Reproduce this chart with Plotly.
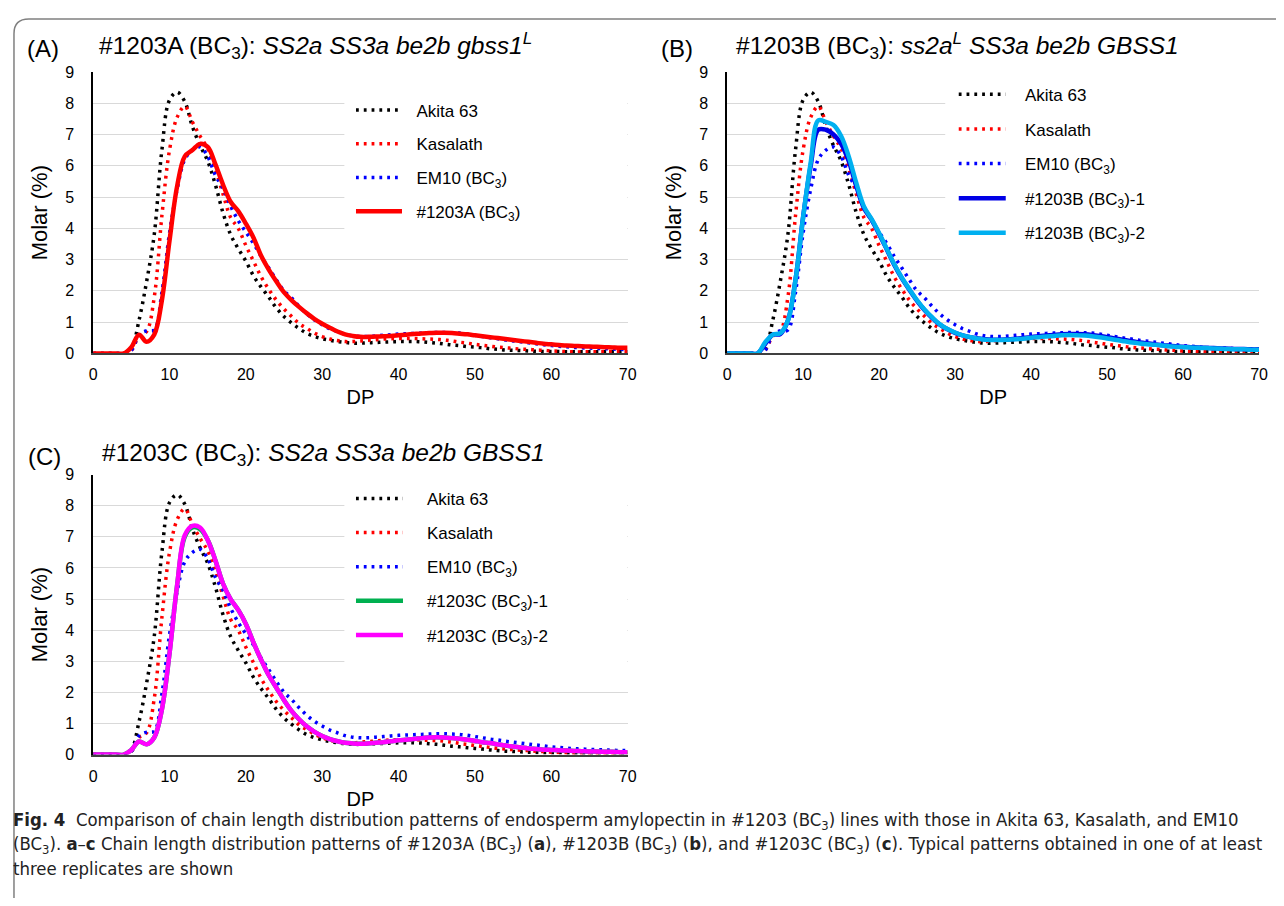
import plotly.graph_objects as go

# ---------------- data ----------------
DP = list(range(0, 71))
x_ticks = [0, 10, 20, 30, 40, 50, 60, 70]
y_ticks = [0, 1, 2, 3, 4, 5, 6, 7, 8, 9]

akita63 = [0, 0, 0, 0, 0, 0.15, 1.05, 2.3, 3.8, 6.5,
           8.1, 8.35, 8.05, 7.25, 6.65, 6.15, 5.4, 4.5, 3.8, 3.35,
           2.95, 2.48, 2.12, 1.8, 1.45, 1.18, 0.97, 0.79, 0.64, 0.54,
           0.47, 0.42, 0.38, 0.35, 0.33, 0.33, 0.34, 0.35, 0.36, 0.37,
           0.38, 0.38, 0.38, 0.37, 0.35, 0.33, 0.30, 0.27, 0.25, 0.22,
           0.20, 0.18, 0.15, 0.13, 0.11, 0.10, 0.09, 0.08, 0.07, 0.06,
           0.06, 0.06, 0.05, 0.05, 0.05, 0.05, 0.05, 0.05, 0.05, 0.05, 0.05]

kasalath = [0, 0, 0, 0, 0, 0.1, 0.55, 0.7, 1.8, 4.4,
            6.5, 7.55, 7.9, 7.4, 6.95, 6.55, 5.9, 5.1, 4.35, 4.0,
            3.45, 2.95, 2.45, 2.05, 1.7, 1.42, 1.18, 0.95, 0.80, 0.65,
            0.54, 0.46, 0.41, 0.38, 0.38, 0.40, 0.42, 0.44, 0.46, 0.47,
            0.48, 0.48, 0.48, 0.47, 0.46, 0.45, 0.43, 0.40, 0.36, 0.33,
            0.29, 0.26, 0.23, 0.20, 0.18, 0.16, 0.14, 0.13, 0.11, 0.10,
            0.08, 0.07, 0.06, 0.05, 0.05, 0.05, 0.05, 0.05, 0.05, 0.05, 0.05]

em10 = [0, 0, 0, 0, 0, 0.1, 0.6, 0.72, 0.75, 1.95,
        3.85, 5.25, 6.2, 6.5, 6.6, 6.3, 5.7, 5.28, 4.71, 4.25,
        3.88, 3.52, 3.1, 2.73, 2.35, 2.0, 1.77, 1.5, 1.26, 1.07,
        0.92, 0.79, 0.70, 0.61, 0.56, 0.54, 0.54, 0.56, 0.58, 0.60,
        0.62, 0.63, 0.64, 0.65, 0.66, 0.67, 0.67, 0.66, 0.65, 0.62,
        0.58, 0.54, 0.50, 0.47, 0.43, 0.40, 0.37, 0.34, 0.31, 0.28,
        0.25, 0.23, 0.21, 0.19, 0.18, 0.17, 0.16, 0.15, 0.14, 0.13, 0.13]

line_1203A = [0, 0, 0, 0, 0, 0.2, 0.6, 0.37, 0.6, 1.7,
              3.6, 5.35, 6.3, 6.5, 6.7, 6.6, 6.05, 5.4, 4.85, 4.55,
              4.15, 3.7, 3.12, 2.68, 2.3, 1.95, 1.7, 1.48, 1.28, 1.10,
              0.95, 0.82, 0.70, 0.61, 0.56, 0.53, 0.53, 0.54, 0.55, 0.56,
              0.58, 0.60, 0.62, 0.64, 0.65, 0.66, 0.66, 0.65, 0.63, 0.61,
              0.58, 0.55, 0.52, 0.49, 0.46, 0.43, 0.40, 0.37, 0.34, 0.31,
              0.29, 0.27, 0.25, 0.24, 0.23, 0.22, 0.21, 0.20, 0.19, 0.18, 0.18]

line_1203B_1 = [0, 0, 0, 0, 0, 0.3, 0.6, 0.62, 1.05, 2.35,
                4.35, 6.0, 7.15, 7.15, 7.0, 6.7, 6.15, 5.35, 4.65, 4.28,
                3.82, 3.33, 2.83, 2.4, 2.03, 1.68, 1.38, 1.13, 0.92, 0.77,
                0.66, 0.58, 0.52, 0.48, 0.45, 0.44, 0.44, 0.45, 0.47, 0.49,
                0.52, 0.55, 0.57, 0.59, 0.61, 0.62, 0.62, 0.61, 0.59, 0.56,
                0.52, 0.48, 0.44, 0.40, 0.36, 0.33, 0.30, 0.27, 0.25, 0.23,
                0.21, 0.20, 0.19, 0.18, 0.17, 0.16, 0.15, 0.14, 0.14, 0.13, 0.13]

line_1203B_2 = [0, 0, 0, 0, 0, 0.35, 0.6, 0.65, 1.05, 2.35,
                4.35, 6.1, 7.45, 7.4, 7.3, 6.95, 6.3, 5.45, 4.7, 4.3,
                3.85, 3.35, 2.85, 2.42, 2.05, 1.7, 1.4, 1.15, 0.93, 0.78,
                0.67, 0.58, 0.52, 0.47, 0.44, 0.43, 0.43, 0.44, 0.45, 0.47,
                0.50, 0.52, 0.54, 0.56, 0.58, 0.59, 0.58, 0.57, 0.55, 0.52,
                0.48, 0.44, 0.40, 0.36, 0.33, 0.30, 0.28, 0.26, 0.23, 0.21,
                0.20, 0.19, 0.18, 0.17, 0.16, 0.15, 0.14, 0.13, 0.13, 0.12, 0.12]

line_1203C_1 = [0, 0, 0, 0, 0, 0.15, 0.42, 0.33, 0.55, 1.45,
                3.25, 5.45, 7.0, 7.3, 7.25, 6.9, 6.25, 5.5, 5.0, 4.65,
                4.2, 3.6, 3.05, 2.55, 2.15, 1.75, 1.4, 1.13, 0.90, 0.73,
                0.60, 0.50, 0.43, 0.38, 0.36, 0.35, 0.36, 0.38, 0.40, 0.43,
                0.46, 0.48, 0.50, 0.53, 0.55, 0.56, 0.55, 0.53, 0.51, 0.48,
                0.44, 0.40, 0.37, 0.33, 0.29, 0.26, 0.23, 0.20, 0.18, 0.16,
                0.15, 0.14, 0.13, 0.12, 0.11, 0.10, 0.10, 0.09, 0.09, 0.08, 0.08]

line_1203C_2 = [0, 0, 0, 0, 0, 0.15, 0.42, 0.33, 0.55, 1.45,
                3.25, 5.45, 7.05, 7.35, 7.3, 6.9, 6.25, 5.5, 5.0, 4.65,
                4.2, 3.6, 3.05, 2.55, 2.15, 1.75, 1.4, 1.13, 0.90, 0.73,
                0.60, 0.50, 0.43, 0.38, 0.36, 0.35, 0.36, 0.38, 0.40, 0.43,
                0.46, 0.48, 0.50, 0.53, 0.55, 0.56, 0.55, 0.53, 0.51, 0.48,
                0.44, 0.40, 0.37, 0.33, 0.29, 0.26, 0.23, 0.20, 0.18, 0.16,
                0.15, 0.14, 0.13, 0.12, 0.11, 0.10, 0.10, 0.09, 0.09, 0.08, 0.08]

baseline_names = ["Akita 63", "Kasalath", "EM10 (BC<sub>3</sub>)"]
baseline_series = [akita63, kasalath, em10]
baseline_colors = ["#000000", "#FF0000", "#0000FF"]

panel_labels = ["(A)", "(B)", "(C)"]
panel_titles = [
    "#1203A (BC<sub>3</sub>): <i>SS2a SS3a be2b gbss1<sup>L</sup></i>",
    "#1203B (BC<sub>3</sub>): <i>ss2a<sup>L</sup> SS3a be2b GBSS1</i>",
    "#1203C (BC<sub>3</sub>): <i>SS2a SS3a be2b GBSS1</i>",
]
panel_lines = [
    [("#1203A (BC<sub>3</sub>)", line_1203A, "#FF0000")],
    [("#1203B (BC<sub>3</sub>)-1", line_1203B_1, "#0000E6"),
     ("#1203B (BC<sub>3</sub>)-2", line_1203B_2, "#00B0F0")],
    [("#1203C (BC<sub>3</sub>)-1", line_1203C_1, "#00B050"),
     ("#1203C (BC<sub>3</sub>)-2", line_1203C_2, "#FF00FF")],
]

caption_lines = [
    "<b>Fig. 4</b>  Comparison of chain length distribution patterns of endosperm amylopectin in #1203 (BC<sub>3</sub>) lines with those in Akita 63, Kasalath, and EM10",
    "(BC<sub>3</sub>). <b>a</b>–<b>c</b> Chain length distribution patterns of #1203A (BC<sub>3</sub>) (<b>a</b>), #1203B (BC<sub>3</sub>) (<b>b</b>), and #1203C (BC<sub>3</sub>) (<b>c</b>). Typical patterns obtained in one of at least",
    "three replicates are shown",
]

# ---------------- layout helpers (page pixel -> paper) ----------------
# the page body has an 8px margin, so the figure is 16px smaller than the window
OFF = 8
W, H = 1284 - 2 * OFF, 906 - 2 * OFF
def X(px):
    return (px - OFF) / W
def Y(py):
    return 1 - (py - OFF) / H

FONT = "Liberation Sans, Arial, sans-serif"
CAP_FONT = "Liberation Sans Narrow, DejaVu Sans Condensed, Roboto Condensed, Liberation Sans, sans-serif"
NB = "\u00a0"

# panel geometry in page pixels: (x_left, x_right, y_top, y_bottom)
geo = [(90, 630, 65, 352), (730.5, 1268, 65, 352), (90, 630, 475.5, 761)]
axis_ids = [("x", "y", "xaxis", "yaxis", "legend"),
            ("x2", "y2", "xaxis2", "yaxis2", "legend2"),
            ("x3", "y3", "xaxis3", "yaxis3", "legend3")]
legend_pos = [(350.5, 86), (959.5, 70), (350.5, 482)]
legend_itemw = [46, 47, 47]
legend_gap = [8.6, 9.5, 9.0]
legend_pad = [2, 3, 4]
# white areas behind the legends (data units: x0, x1, y0, y1)
legend_mask = [(32.9, 70, 3.8, 8.7), (28.7, 70, 2.5, 8.7), (32.9, 70, 2.6, 8.7)]
label_pos = [(21.5, 41), (661.5, 41), (22.5, 457)]
title_pos = [(94, 38), (737.5, 38), (96.5, 455)]

fig = go.Figure()
layout = dict(
    width=W, height=H,
    margin=dict(l=0, r=0, t=0, b=0),
    paper_bgcolor="white", plot_bgcolor="white",
    font=dict(family=FONT, color="#000000"),
    annotations=[], shapes=[],
)

for i in range(3):
    xa, ya, xk, yk, lk = axis_ids[i]
    x0, x1, y0, y1 = geo[i]
    pad = NB * legend_pad[i]
    g = 0
    for name, ser, col in zip(baseline_names, baseline_series, baseline_colors):
        fig.add_trace(go.Scatter(
            x=DP, y=ser, mode="lines", name=pad + name, xaxis=xa, yaxis=ya,
            legend=lk, legendgroup=f"p{i}g{g}",
            line=dict(color=col, width=3.5, dash="2.8px,5px", shape="spline", smoothing=1),
            hoverinfo="skip"))
        g += 1
    for name, ser, col in panel_lines[i]:
        fig.add_trace(go.Scatter(
            x=DP, y=ser, mode="lines", name=pad + name, xaxis=xa, yaxis=ya,
            legend=lk, legendgroup=f"p{i}g{g}",
            line=dict(color=col, width=4.5, shape="spline", smoothing=1),
            hoverinfo="skip"))
        g += 1

    layout[xk] = dict(
        domain=[X(x0), X(x1)], anchor=ya, range=[0, 70],
        tickvals=x_ticks, showgrid=False, zeroline=False,
        showline=True, linecolor="#404040", linewidth=1.5,
        ticks="", ticklabelstandoff=6,
        tickfont=dict(size=16, family=FONT),
        title=dict(text="DP", font=dict(size=20, family=FONT), standoff=8),
    )
    layout[yk] = dict(
        domain=[Y(y1), Y(y0)], anchor=xa, range=[0, 9],
        tickvals=y_ticks, showgrid=True, gridcolor="#D9D9D9", gridwidth=1.3,
        zeroline=False, showline=True, linecolor="#000000", linewidth=1.5,
        ticks="", ticklabelstandoff=14,
        tickfont=dict(size=16, family=FONT),
        title=dict(text="Molar (%)", font=dict(size=22, family=FONT), standoff=12),
    )
    lx, ly = legend_pos[i]
    layout[lk] = dict(
        x=X(lx), y=Y(ly), xanchor="left", yanchor="top",
        bgcolor="white", borderwidth=0,
        font=dict(size=17, family=FONT, color="#000000"),
        traceorder="grouped", tracegroupgap=legend_gap[i], itemwidth=legend_itemw[i],
    )
    mx0, mx1, my0, my1 = legend_mask[i]
    layout["shapes"].append(dict(
        type="rect", xref=xa, yref=ya, x0=mx0, x1=mx1, y0=my0, y1=my1,
        fillcolor="white", line=dict(width=0), layer="between"))
    px_, py_ = label_pos[i]
    layout["annotations"].append(dict(
        text=panel_labels[i], x=X(px_), y=Y(py_), xref="paper", yref="paper",
        xanchor="left", yanchor="middle", showarrow=False,
        font=dict(size=24, family=FONT, color="#000000")))
    tx, ty = title_pos[i]
    layout["annotations"].append(dict(
        text=panel_titles[i], x=X(tx), y=Y(ty), xref="paper", yref="paper",
        xanchor="left", yanchor="middle", showarrow=False,
        font=dict(size=24.5, family=FONT, color="#000000")))

for k, (txt, cy) in enumerate(zip(caption_lines, [829, 853, 877])):
    layout["annotations"].append(dict(
        text=txt, x=X(7), y=Y(cy), xref="paper", yref="paper",
        xanchor="left", yanchor="middle", showarrow=False, align="left",
        font=dict(size=18.4, family=CAP_FONT, color="#222222")))

# outer rounded frame (extends past right and bottom edges)
frame = (f"M {X(1300)},{Y(11)} L {X(25)},{Y(11)} "
         f"Q {X(10)},{Y(11)} {X(10)},{Y(26)} L {X(10)},{Y(930)}")
layout["shapes"].append(dict(type="path", path=frame, xref="paper", yref="paper",
                             line=dict(color="#808080", width=1.5)))

fig.update_layout(**layout)
fig.write_html("out.html")
